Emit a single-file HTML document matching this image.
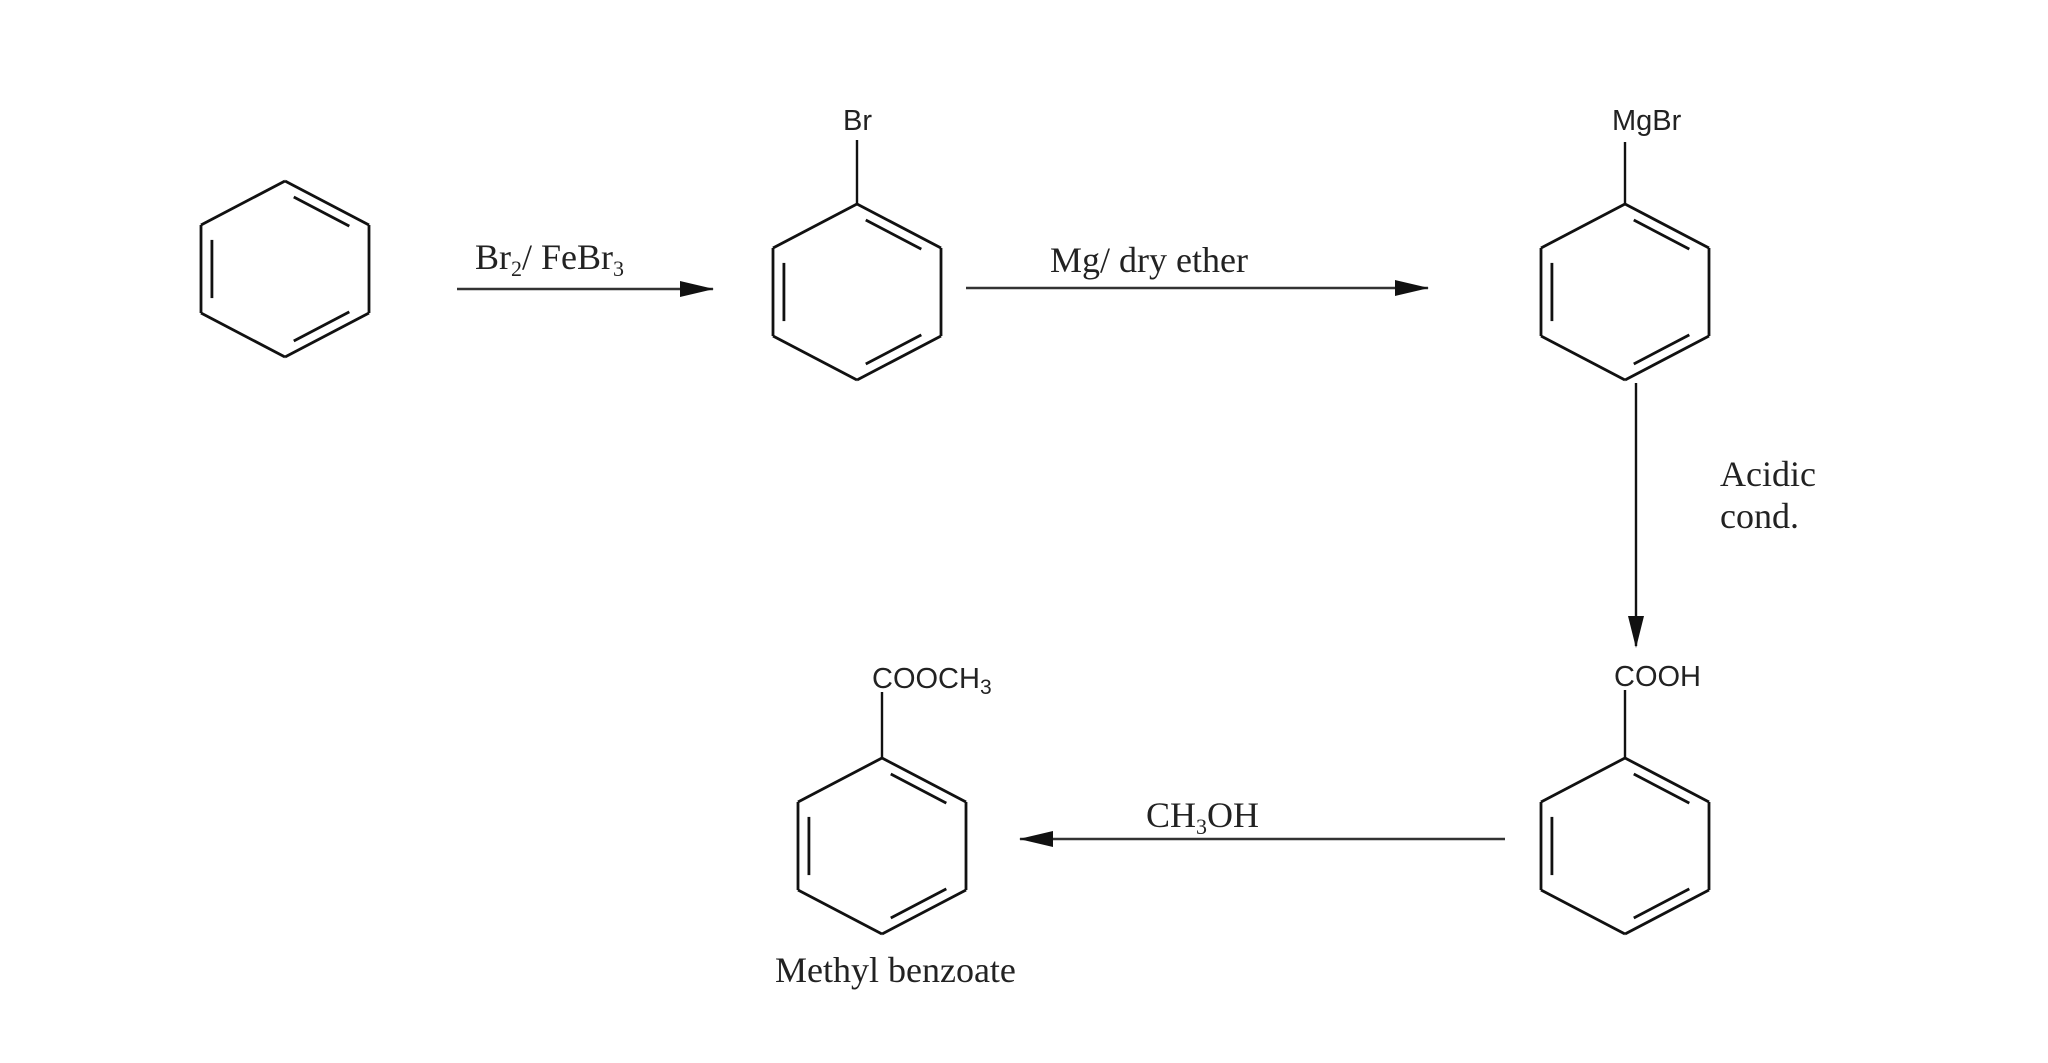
<!DOCTYPE html>
<html><head><meta charset="utf-8"><style>
html,body{margin:0;padding:0;background:#fff;}
svg{display:block}
.s{font-family:"Liberation Serif",serif;font-size:36px;fill:#222}
.a{font-family:"Liberation Sans",sans-serif;font-size:29px;fill:#222}
</style></head><body>
<svg id="g" width="2048" height="1063" viewBox="0 0 2048 1063" xmlns="http://www.w3.org/2000/svg">
<defs>
<marker id="ah2" markerWidth="34" markerHeight="16" refX="33" refY="8" orient="auto" markerUnits="userSpaceOnUse"><path d="M0,0 L34,8 L0,16 Z" fill="#111"/></marker></defs>
<g id="rings" stroke="#111" stroke-width="2.8" fill="none"></g>
<g stroke="#333" stroke-width="2.4">
<line x1="457" y1="289" x2="713" y2="289" marker-end="url(#ah2)"/>
<line x1="966" y1="288" x2="1428" y2="288" marker-end="url(#ah2)"/>
<line x1="1636" y1="383" x2="1636" y2="646" stroke="#111"/>
<path d="M1628,616 L1636,648 L1644,616 Z" fill="#111" stroke="none"/>
<line x1="1505" y1="839" x2="1020" y2="839" marker-end="url(#ah2)"/>
<line x1="857" y1="204" x2="857" y2="140" stroke="#111"/>
<line x1="1625" y1="204" x2="1625" y2="142" stroke="#111"/>
<line x1="1625" y1="758" x2="1625" y2="690" stroke="#111"/>
<line x1="882" y1="758" x2="882" y2="692" stroke="#111"/>
</g>
<text class="s" x="475" y="269">Br<tspan font-size="22" dy="7">2</tspan><tspan dy="-7">/ FeBr</tspan><tspan font-size="22" dy="7">3</tspan></text>
<text class="s" x="1050" y="272">Mg/ dry ether</text>
<text class="s" x="1720" y="486">Acidic</text>
<text class="s" x="1720" y="528">cond.</text>
<text class="s" x="1146" y="827">CH<tspan font-size="22" dy="7">3</tspan><tspan dy="-7">OH</tspan></text>
<text class="s" x="775" y="982">Methyl benzoate</text>
<text class="a" x="843" y="130">Br</text>
<text class="a" x="1612" y="130">MgBr</text>
<text class="a" x="1614" y="686">COOH</text>
<text class="a" x="872" y="688">COOCH<tspan font-size="21" dy="6">3</tspan></text>
</svg>
<script>
var g=document.getElementById('rings');
function L(x1,y1,x2,y2){var l=document.createElementNS('http://www.w3.org/2000/svg','line');l.setAttribute('x1',x1);l.setAttribute('y1',y1);l.setAttribute('x2',x2);l.setAttribute('y2',y2);g.appendChild(l);}
function ring(cx,t){var w=84,a=44,b=88;
var P=[[cx,t],[cx+w,t+a],[cx+w,t+a+b],[cx,t+2*a+b],[cx-w,t+a+b],[cx-w,t+a]];
var C=[cx,t+a+b/2];
for(var i=0;i<6;i++){var p=P[i],q=P[(i+1)%6];L(p[0],p[1],q[0],q[1]);}
[0,2,4].forEach(function(i){var p=P[i],q=P[(i+1)%6];
var f=0.12,o=0.13;
var p2=[p[0]+(C[0]-p[0])*o,p[1]+(C[1]-p[1])*o],q2=[q[0]+(C[0]-q[0])*o,q[1]+(C[1]-q[1])*o];
var dx=q2[0]-p2[0],dy=q2[1]-p2[1];
L(p2[0]+dx*f,p2[1]+dy*f,q2[0]-dx*f,q2[1]-dy*f);});
}
ring(285,181);ring(857,204);ring(1625,204);ring(1625,758);ring(882,758);
</script>
</body></html>
